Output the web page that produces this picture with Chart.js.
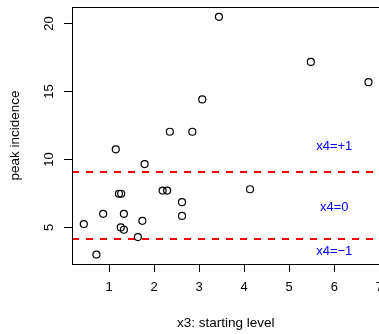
<!DOCTYPE html>
<html>
<head>
<meta charset="utf-8">
<script src="https://cdn.jsdelivr.net/npm/chart.js@4.4.1/dist/chart.umd.min.js"></script>
<style>
  html, body { margin: 0; padding: 0; background: #fff; overflow: hidden; }
  /* wider than the window: the right edge of the plot box is cut off, like the R output */
  #wrap { width: 384px; height: 334px; }
</style>
</head>
<body>
<div id="wrap"><canvas id="chart"></canvas></div>
<script>
// starting level (x3) vs peak incidence
const startLevel = [3.44, 5.48, 6.76, 3.07, 2.85, 2.35, 1.15, 1.79, 4.13, 0.44, 0.72, 0.87,
  1.22, 1.27, 1.33, 1.26, 1.33, 1.64, 1.74, 2.19, 2.29, 2.62, 2.62]
const peakIncidence = [20.5, 17.18, 15.69, 14.42, 12.04, 12.04, 10.75, 9.66, 7.81, 5.25, 3.0, 6.0,
  7.48, 7.48, 6.0, 5.0, 4.83, 4.29, 5.49, 7.71, 7.71, 6.86, 5.85]
const xTicks = [1, 2, 3, 4, 5, 6, 7]
const yTicks = [5, 10, 15, 20]
const cutoffs = [9.06, 4.15]
const groupLabels = ['x4=+1', 'x4=0', 'x4=\u22121']
const groupLabelX = [6, 6, 6]
const groupLabelY = [10.99, 6.46, 3.24]

const FONT = '"Liberation Sans", Arial, Helvetica, sans-serif'

const rStyle = {
  id: 'rStyle',
  beforeDatasetsDraw(chart) {
    const { ctx, chartArea: a, scales: { y } } = chart
    ctx.save()
    ctx.strokeStyle = '#ff0000'
    ctx.lineWidth = 2
    ctx.setLineDash([7, 7])
    cutoffs.forEach(v => {
      const py = Math.round(y.getPixelForValue(v))
      ctx.beginPath()
      ctx.moveTo(a.left, py)
      ctx.lineTo(a.right, py)
      ctx.stroke()
    })
    ctx.restore()
  },
  afterDraw(chart) {
    const { ctx, chartArea: a, scales: { x, y } } = chart
    ctx.save()
    ctx.strokeStyle = '#000'
    ctx.lineWidth = 1
    ctx.strokeRect(Math.round(a.left) + 0.5, Math.round(a.top) + 0.5,
      Math.round(a.right - a.left), Math.round(a.bottom - a.top))

    // y tick labels, vertical like R
    ctx.fillStyle = '#000'
    ctx.font = '13px ' + FONT
    ctx.textAlign = 'center'
    ctx.textBaseline = 'middle'
    yTicks.forEach(v => {
      ctx.save()
      ctx.translate(a.left - 23, y.getPixelForValue(v))
      ctx.rotate(-Math.PI / 2)
      ctx.fillText(String(v), 0, 0)
      ctx.restore()
    })

    // group labels
    ctx.fillStyle = '#0000ff'
    groupLabels.forEach((t, i) => {
      ctx.fillText(t, x.getPixelForValue(groupLabelX[i]), y.getPixelForValue(groupLabelY[i]))
    })
    ctx.restore()
  },
}

new Chart(document.getElementById('chart'), {
  type: 'scatter',
  data: {
    datasets: [{
      data: startLevel.map((v, i) => ({ x: v, y: peakIncidence[i] })),
      borderColor: '#000',
      backgroundColor: 'rgba(0,0,0,0)',
      borderWidth: 1.2,
      pointRadius: 3.5,
      pointHoverRadius: 3.5,
    }],
  },
  options: {
    responsive: true,
    maintainAspectRatio: false,
    animation: false,
    events: [],
    layout: { padding: { top: 7, right: 0, left: 0, bottom: 0 } },
    plugins: { legend: { display: false }, tooltip: { enabled: false } },
    scales: {
      x: {
        type: 'linear',
        min: 0.178,
        max: 7.0,
        afterBuildTicks(s) { s.ticks = xTicks.map(v => ({ value: v })) },
        afterFit(s) { s.height = 70; s.paddingRight = 0; s.paddingLeft = 0 },
        grid: { drawOnChartArea: false, tickLength: 8, color: '#000', tickColor: '#000' },
        border: { display: true, color: '#000' },
        ticks: { color: '#000', font: { size: 13, family: FONT }, padding: 8, maxRotation: 0, autoSkip: false },
        title: { display: true, text: 'x3: starting level', color: '#000',
          font: { size: 13.5, family: FONT }, padding: { bottom: 3 } },
      },
      y: {
        type: 'linear',
        min: 2.31,
        max: 21.22,
        afterBuildTicks(s) { s.ticks = yTicks.map(v => ({ value: v })) },
        afterFit(s) { s.width = 72; s.paddingTop = 0; s.paddingBottom = 0 },
        grid: { drawOnChartArea: false, tickLength: 8, color: '#000', tickColor: '#000' },
        border: { display: true, color: '#000' },
        ticks: { display: true, color: 'rgba(0,0,0,0)', font: { size: 13, family: FONT } },
        title: { display: true, text: 'peak incidence', color: '#000',
          font: { size: 13.5, family: FONT }, padding: { top: 7 } },
      },
    },
  },
  plugins: [rStyle],
})
</script>
</body>
</html>
